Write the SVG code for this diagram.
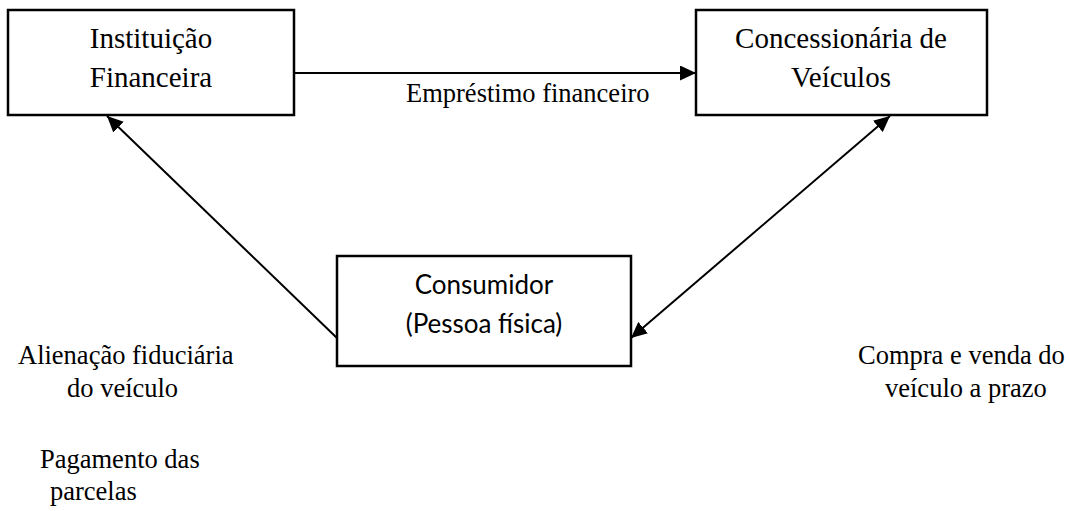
<svg xmlns="http://www.w3.org/2000/svg" width="1070" height="511" viewBox="0 0 1070 511">
<defs>
<style>
.box{fill:#fff;stroke:#000;stroke-width:2.5}
.t{font-family:"Liberation Serif","Times New Roman",serif;fill:#000}
.big{font-family:"Liberation Serif","Times New Roman",serif;font-size:29px;text-anchor:middle;fill:#000}
.lab{font-size:26.5px}
.cal{font-family:Lato,"Open Sans",sans-serif;font-size:26px;text-anchor:middle;fill:#000}
.c{stroke:#000;stroke-width:2;fill:none}
</style>
<marker id="ah" markerUnits="userSpaceOnUse" markerWidth="17" markerHeight="15" viewBox="0 0 17 15" refX="16" refY="7.5" orient="auto-start-reverse">
<path d="M0,0 L16,7.5 L0,15 z" fill="#000"/>
</marker>
</defs>
<rect width="1070" height="511" fill="#fff"/>
<g id="connectors">
<line class="c" x1="295" y1="73" x2="696" y2="73" marker-end="url(#ah)"/>
<line class="c" x1="338" y1="339" x2="107" y2="116" marker-end="url(#ah)"/>
<line class="c" x1="631" y1="338" x2="890" y2="116" marker-start="url(#ah)" marker-end="url(#ah)"/>
</g>
<g id="instituicao">
<rect class="box" x="8" y="10" width="286" height="105"/>
<text class="big" x="151" y="48">Instituição</text>
<text class="big" x="151" y="87">Financeira</text>
</g>
<g id="concessionaria">
<rect class="box" x="696" y="10" width="291" height="105"/>
<text class="big" x="841" y="48">Concessionária de</text>
<text class="big" x="841" y="87">Veículos</text>
</g>
<g id="consumidor">
<rect class="box" x="337" y="256" width="294" height="110"/>
<text class="cal" x="484" y="294">Consumidor</text>
<text class="cal" x="484" y="333">(Pessoa física)</text>
</g>
<g id="labels">
<text class="t lab" x="406" y="102">Empréstimo financeiro</text>
<text class="t lab" x="18" y="364">Alienação fiduciária</text>
<text class="t lab" x="67" y="397">do veículo</text>
<text class="t lab" x="40" y="468">Pagamento das</text>
<text class="t lab" x="50" y="500">parcelas</text>
<text class="t lab" x="858" y="364">Compra e venda do</text>
<text class="t lab" x="885" y="397">veículo a prazo</text>
</g>
</svg>
